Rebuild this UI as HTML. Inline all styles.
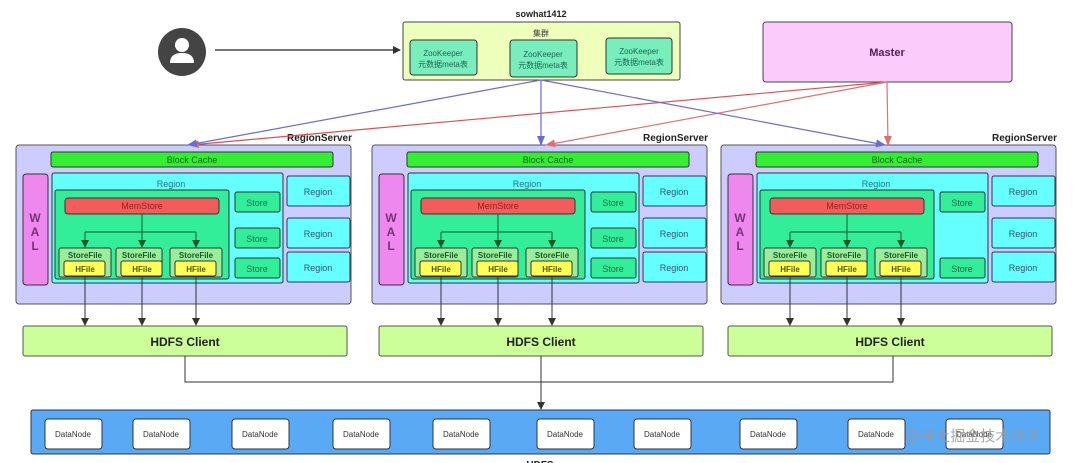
<!DOCTYPE html>
<html><head><meta charset="utf-8"><style>
body{margin:0;background:#fff}
svg{display:block;font-family:"Liberation Sans","Noto Sans CJK SC",sans-serif}
</style></head><body>
<svg width="1080" height="463" viewBox="0 0 1080 463" xmlns="http://www.w3.org/2000/svg">
<defs>
<marker id="ak" markerWidth="8" markerHeight="8" refX="7" refY="4" orient="auto" markerUnits="userSpaceOnUse"><path d="M0,0 L8,4 L0,8 z" fill="#333"/></marker>
<marker id="ab" markerWidth="10" markerHeight="8" refX="9" refY="4" orient="auto" markerUnits="userSpaceOnUse"><path d="M0,0 L10,4 L0,8 z" fill="#6b6bd6"/></marker>
<marker id="ar" markerWidth="10" markerHeight="8" refX="9" refY="4" orient="auto" markerUnits="userSpaceOnUse"><path d="M0,0 L10,4 L0,8 z" fill="#e07070"/></marker>
<marker id="ag" markerWidth="8" markerHeight="8" refX="7" refY="4" orient="auto" markerUnits="userSpaceOnUse"><path d="M0,0 L8,4 L0,8 z" fill="#1a5a2a"/></marker>
<g id="rs">
<rect x="16" y="145" width="335" height="159" rx="3" fill="#ccccff" stroke="#555" stroke-width="1"/>
<rect x="51" y="152" width="282" height="15" rx="2" fill="#33ee33" stroke="#333"/>
<text x="192" y="163" font-size="9" text-anchor="middle" fill="#116611">Block Cache</text>
<rect x="23" y="174" width="25" height="111" rx="3" fill="#ee88ee" stroke="#333"/>
<text x="35" y="222" font-size="12" font-weight="bold" text-anchor="middle" fill="#773377">W</text>
<text x="35" y="236" font-size="12" font-weight="bold" text-anchor="middle" fill="#773377">A</text>
<text x="35" y="250" font-size="12" font-weight="bold" text-anchor="middle" fill="#773377">L</text>
<rect x="52" y="173" width="231" height="110" rx="2" fill="#66ffff" stroke="#333"/>
<text x="171" y="187" font-size="9" text-anchor="middle" fill="#227788">Region</text>
<rect x="55" y="190" width="174" height="89" rx="2" fill="#33ee99" stroke="#333"/>
<rect x="65" y="198" width="154" height="16" rx="3" fill="#f25c5c" stroke="#333"/>
<text x="142" y="209" font-size="9" text-anchor="middle" fill="#992222">MemStore</text>
<path d="M142,214 V232 M85,232 H196" stroke="#1a5a2a" fill="none"/>
<path d="M85,232 V247" stroke="#1a5a2a" marker-end="url(#ag)"/>
<path d="M142,232 V247" stroke="#1a5a2a" marker-end="url(#ag)"/>
<path d="M196,232 V247" stroke="#1a5a2a" marker-end="url(#ag)"/>
<rect x="59" y="248" width="52" height="29" rx="2" fill="#99ee99" stroke="#333"/>
<rect x="116" y="248" width="46" height="29" rx="2" fill="#99ee99" stroke="#333"/>
<rect x="170" y="248" width="52" height="29" rx="2" fill="#99ee99" stroke="#333"/>
<text x="85" y="258" font-size="8" font-weight="bold" text-anchor="middle" fill="#1a5a2a">StoreFile</text>
<text x="139" y="258" font-size="8" font-weight="bold" text-anchor="middle" fill="#1a5a2a">StoreFile</text>
<text x="196" y="258" font-size="8" font-weight="bold" text-anchor="middle" fill="#1a5a2a">StoreFile</text>
<rect x="64" y="261" width="41" height="15" rx="2" fill="#ffff55" stroke="#333"/>
<rect x="121" y="261" width="41" height="15" rx="2" fill="#ffff55" stroke="#333"/>
<rect x="175" y="261" width="41" height="15" rx="2" fill="#ffff55" stroke="#333"/>
<text x="85" y="272" font-size="8" font-weight="bold" text-anchor="middle" fill="#555511">HFile</text>
<text x="142" y="272" font-size="8" font-weight="bold" text-anchor="middle" fill="#555511">HFile</text>
<text x="196" y="272" font-size="8" font-weight="bold" text-anchor="middle" fill="#555511">HFile</text>
<rect x="235" y="192" width="45" height="20" rx="2" fill="#33ee99" stroke="#333"/>
<text x="257" y="206" font-size="9" text-anchor="middle" fill="#226644">Store</text>
<rect x="287" y="176" width="63" height="30" rx="2" fill="#66ffff" stroke="#335"/>
<rect x="287" y="218" width="63" height="30" rx="2" fill="#66ffff" stroke="#335"/>
<rect x="287" y="252" width="63" height="30" rx="2" fill="#66ffff" stroke="#335"/>
<text x="318" y="195" font-size="9" text-anchor="middle" fill="#335577">Region</text>
<text x="318" y="237" font-size="9" text-anchor="middle" fill="#335577">Region</text>
<text x="318" y="271" font-size="9" text-anchor="middle" fill="#335577">Region</text>
<rect x="235" y="258" width="45" height="20" rx="2" fill="#33ee99" stroke="#333"/>
<text x="257" y="272" font-size="9" text-anchor="middle" fill="#226644">Store</text>
<path d="M85,277 V325" stroke="#333" marker-end="url(#ak)"/>
<path d="M142,277 V325" stroke="#333" marker-end="url(#ak)"/>
<path d="M196,277 V325" stroke="#333" marker-end="url(#ak)"/>
<rect x="23" y="326" width="324" height="30" rx="2" fill="#ccff99" stroke="#555"/>
<text x="185" y="346" font-size="12" font-weight="bold" text-anchor="middle" fill="#222">HDFS Client</text>
<text x="352" y="141" font-size="10" font-weight="bold" text-anchor="end" fill="#222">RegionServer</text>
</g>
<g id="mid"><rect x="235" y="228" width="45" height="20" rx="2" fill="#33ee99" stroke="#333"/>
<text x="257" y="242" font-size="9" text-anchor="middle" fill="#226644">Store</text></g>
</defs>
<use href="#rs"/><use href="#mid"/>
<use href="#rs" x="356"/><use href="#mid" x="356"/>
<use href="#rs" x="705"/>

<circle cx="182" cy="52" r="24" fill="#444"/>
<circle cx="182" cy="45" r="7" fill="#fff"/>
<path d="M170,63 Q170,53 182,53 Q194,53 194,63 Z" fill="#fff"/>
<path d="M215,50 H400" stroke="#222" stroke-width="1.2" marker-end="url(#ak)"/>

<text x="541" y="17" font-size="9" font-weight="bold" text-anchor="middle" fill="#222">sowhat1412</text>
<rect x="403" y="22" width="277" height="58" rx="2" fill="#eeffbb" stroke="#444"/>
<text x="541" y="36" font-size="8" text-anchor="middle" fill="#333">集群</text>
<g font-size="8" text-anchor="middle" fill="#226655">
<rect x="410" y="40" width="67" height="35" rx="3" fill="#77eebb" stroke="#333"/>
<text x="443" y="56">ZooKeeper</text><text x="443" y="67">元数据meta表</text>
<rect x="510" y="40" width="67" height="37" rx="3" fill="#77eebb" stroke="#333"/>
<text x="543" y="57">ZooKeeper</text><text x="543" y="68">元数据meta表</text>
<rect x="606" y="38" width="66" height="36" rx="3" fill="#77eebb" stroke="#333"/>
<text x="639" y="54">ZooKeeper</text><text x="639" y="65">元数据meta表</text>
</g>
<rect x="763" y="22" width="249" height="60" rx="3" fill="#fbccfb" stroke="#444"/>
<text x="887" y="56" font-size="11" font-weight="bold" text-anchor="middle" fill="#552255">Master</text>

<g stroke-width="1.2" fill="none">
<path d="M887,82 L190,145" stroke="#e05050" marker-end="url(#ar)"/>
<path d="M887,82 L546,145" stroke="#e07070" marker-end="url(#ar)"/>
<path d="M887,82 L888,145" stroke="#e07070" marker-end="url(#ar)"/>
<path d="M541,80 L188,145" stroke="#6b6bd6" marker-end="url(#ab)"/>
<path d="M541,80 L541,145" stroke="#6b6bd6" marker-end="url(#ab)"/>
<path d="M541,80 L885,145" stroke="#6b6bd6" marker-end="url(#ab)"/>
</g>

<path d="M185,356 V382 H893 V356" stroke="#333" fill="none"/>
<path d="M541,356 V409" stroke="#333" marker-end="url(#ak)"/>

<rect x="31" y="410" width="1019" height="44" rx="2" fill="#5aa9f5" stroke="#334"/>
<g font-size="8" text-anchor="middle" fill="#333">
<rect x="45" y="419" width="57" height="30" rx="3" fill="#fff" stroke="#333"/><text x="73" y="437">DataNode</text>
<rect x="133" y="419" width="57" height="30" rx="3" fill="#fff" stroke="#333"/><text x="161" y="437">DataNode</text>
<rect x="232" y="419" width="57" height="30" rx="3" fill="#fff" stroke="#333"/><text x="260" y="437">DataNode</text>
<rect x="333" y="419" width="57" height="30" rx="3" fill="#fff" stroke="#333"/><text x="361" y="437">DataNode</text>
<rect x="433" y="419" width="57" height="30" rx="3" fill="#fff" stroke="#333"/><text x="461" y="437">DataNode</text>
<rect x="537" y="419" width="57" height="30" rx="3" fill="#fff" stroke="#333"/><text x="565" y="437">DataNode</text>
<rect x="634" y="419" width="57" height="30" rx="3" fill="#fff" stroke="#333"/><text x="662" y="437">DataNode</text>
<rect x="740" y="419" width="57" height="30" rx="3" fill="#fff" stroke="#333"/><text x="768" y="437">DataNode</text>
<rect x="848" y="419" width="57" height="30" rx="3" fill="#fff" stroke="#333"/><text x="876" y="437">DataNode</text>
<rect x="946" y="419" width="57" height="30" rx="3" fill="#fff" stroke="#333"/><text x="974" y="437">DataNode</text>
</g>
<text x="540" y="468" font-size="10" font-weight="bold" text-anchor="middle" fill="#222">HDFS</text>
<text x="905" y="441" font-size="15" fill="#999" fill-opacity="0.85">@稀土掘金技术社区</text>
</svg>
</body></html>
